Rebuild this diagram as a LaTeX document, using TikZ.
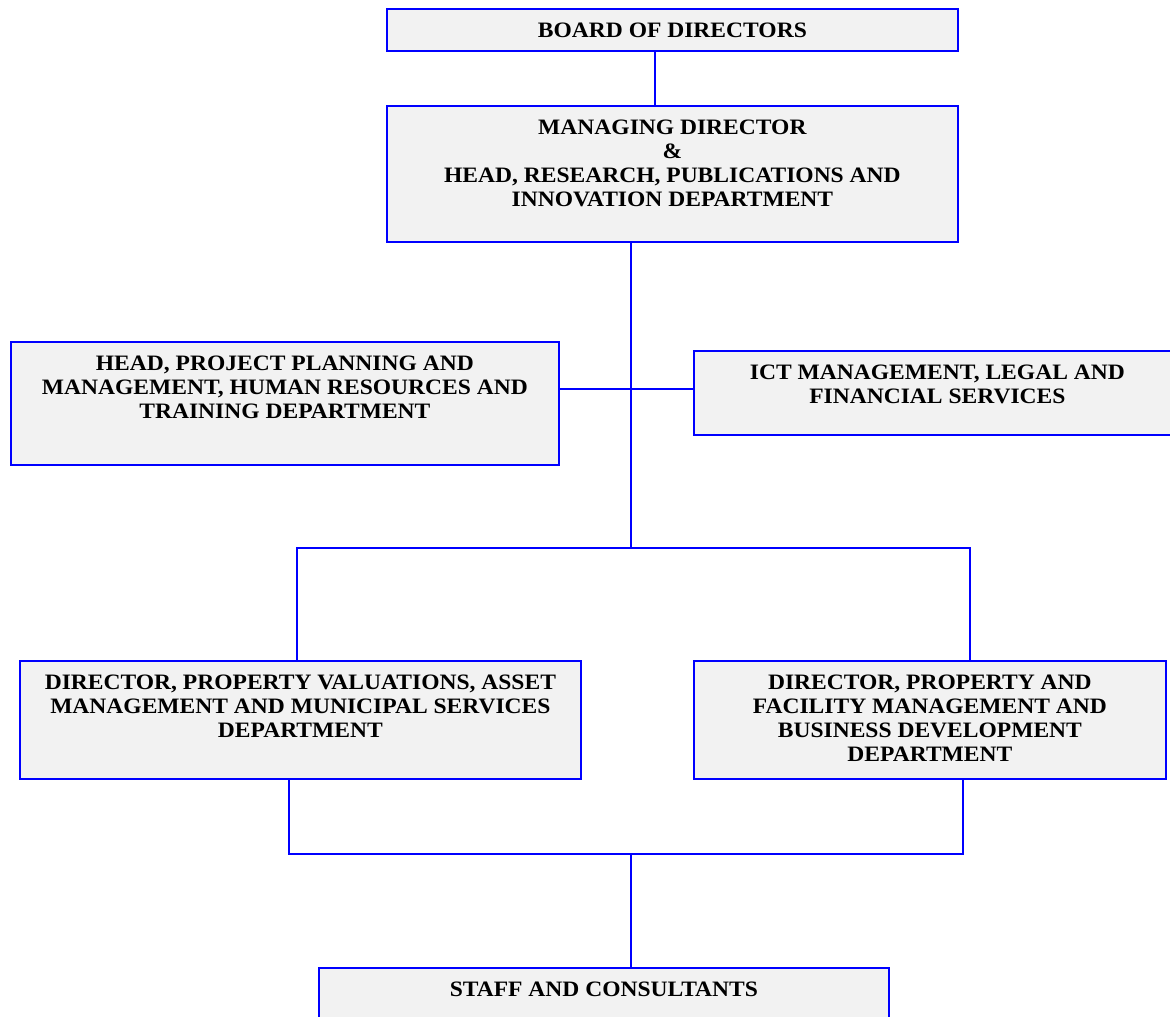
\documentclass[tikz,border=0pt]{standalone}
\usepackage{fontspec}
\usepackage{tikz}
\usetikzlibrary{positioning,calc}
\newfontfamily\orgfont{Liberation Serif}[FakeStretch=1.07]
\definecolor{boxgray}{RGB}{242,242,242}
\definecolor{linkblue}{RGB}{0,0,255}
\newcommand{\boxtext}[3]{\parbox[t][#2pt][t]{#1pt}{\centering\vspace*{14pt}#3}}
\tikzstyle{unit}=[%
      rectangle, draw=linkblue, line width=1.8pt, fill=boxgray, anchor=north west,
      inner sep=0pt, font=\orgfont\bfseries\fontsize{22}{24}\selectfont
]
\tikzstyle{link}=[%
      draw=linkblue, line width=1.8pt
]
\begin{document}
\begin{tikzpicture}[x=1pt, y=-1pt]
    \useasboundingbox (0,0) rectangle (1170,1017);

    \node[unit] (board)   at (386,8)   {\boxtext{571}{42}{BOARD OF DIRECTORS}};
    \node[unit] (md)      at (386,105) {\boxtext{571}{136}{MANAGING DIRECTOR\\ \&\\ HEAD, RESEARCH, PUBLICATIONS AND\\ INNOVATION DEPARTMENT}};
    \node[unit] (head)    at (10,341)  {\boxtext{548}{123}{HEAD, PROJECT PLANNING AND\\ MANAGEMENT, HUMAN RESOURCES AND\\ TRAINING DEPARTMENT}};
    \node[unit] (ict)     at (693,350) {\boxtext{487}{84}{ICT MANAGEMENT, LEGAL AND\\ FINANCIAL SERVICES}};
    \node[unit] (dirval)  at (19,660)  {\boxtext{561}{118}{DIRECTOR, PROPERTY VALUATIONS, ASSET\\ MANAGEMENT AND MUNICIPAL SERVICES\\ DEPARTMENT}};
    \node[unit] (dirprop) at (693,660) {\boxtext{472}{118}{DIRECTOR, PROPERTY AND\\ FACILITY MANAGEMENT AND\\ BUSINESS DEVELOPMENT\\ DEPARTMENT}};
    \node[unit] (staff)   at (318,967) {\boxtext{570}{80}{STAFF AND CONSULTANTS}};

    \coordinate (top)     at (655,0);
    \coordinate (hub)     at (631,389);
    \coordinate (split)   at (631,548);
    \coordinate (lbranch) at (297,548);
    \coordinate (rbranch) at (970,548);
    \coordinate (merge)   at (631,854);
    \coordinate (lmerge)  at (289,854);
    \coordinate (rmerge)  at (963,854);

    \draw[link] (board.south -| top) -- (md.north -| top);
    \draw[link] (md.south -| split) -- (split);
    \draw[link] (head.east |- hub) -- (ict.west |- hub);
    \draw[link] (dirval.north -| lbranch) -- (lbranch) -- (rbranch) -- (dirprop.north -| rbranch);
    \draw[link] (dirval.south -| lmerge) -- (lmerge) -- (rmerge) -- (dirprop.south -| rmerge);
    \draw[link] (merge) -- (staff.north -| merge);
\end{tikzpicture}
\end{document}
